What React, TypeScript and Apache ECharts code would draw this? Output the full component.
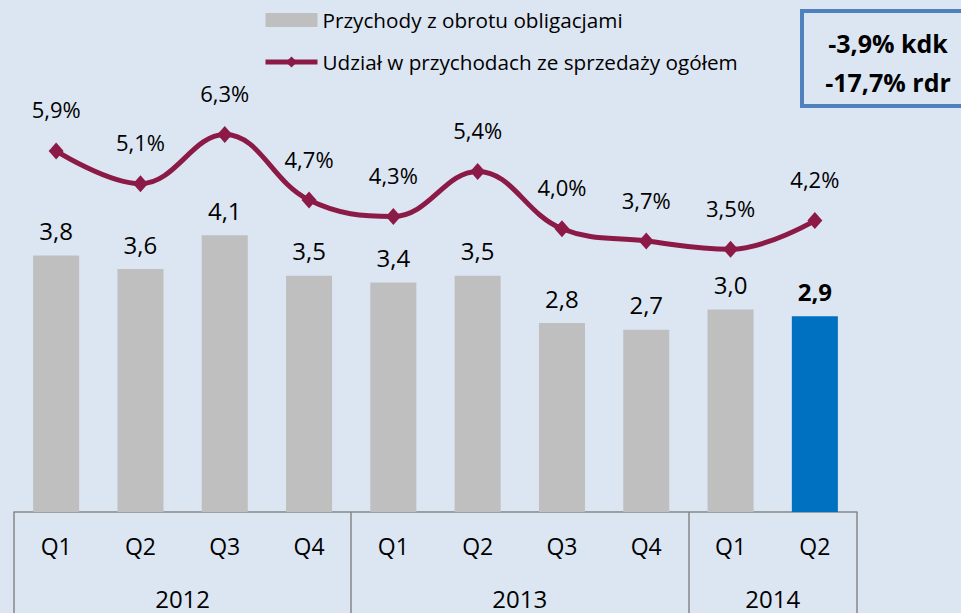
import React, { useEffect, useRef } from "react";
import * as echarts from "echarts";

const quarters = ["Q1", "Q2", "Q3", "Q4", "Q1", "Q2", "Q3", "Q4", "Q1", "Q2"];
const years = ["2012", "2013", "2014"];
const yearCenters = [2, 6, 9];
const yearBounds = [0, 4, 8, 10];
const revenue = [3.8, 3.6, 4.1, 3.5, 3.4, 3.5, 2.8, 2.7, 3.0, 2.9];
const share = [5.9, 5.1, 6.3, 4.7, 4.3, 5.4, 4.0, 3.7, 3.5, 4.2];
const boxLines = ["-3,9% kdk", "-17,7% rdr"];
const legendBar = "Przychody z obrotu obligacjami";
const legendLine = "Udział w przychodach ze sprzedaży ogółem";

const FONT = "'Open Sans', sans-serif";
const TXT = "#000";
const LINE = "#8c1a47";
const fmt = (v: number) => v.toFixed(1).replace(".", ",");

export default function App() {
  const ref = useRef<HTMLDivElement>(null);
  useEffect(() => {
    if (!ref.current) return;
    const chart = echarts.init(ref.current, undefined, { renderer: "svg" });
    const last = revenue.length - 1;
    chart.setOption({
      animation: false,
      backgroundColor: "#dce6f2",
      textStyle: { fontFamily: FONT },
      grid: { left: 14, right: 104, top: 80, bottom: 101, containLabel: false },
      legend: {
        orient: "vertical",
        left: 263,
        top: 7,
        padding: 0,
        itemWidth: 52,
        itemHeight: 14,
        itemGap: 16,
        textStyle: { fontFamily: FONT, fontSize: 20.7, lineHeight: 26, color: TXT },
        data: [
          { name: legendBar, icon: "rect" },
          { name: legendLine, lineStyle: { width: 5 } },
        ],
      },
      xAxis: [
        {
          type: "category",
          data: quarters,
          position: "bottom",
          axisLine: { show: true, lineStyle: { color: "#878787", width: 1.5 } },
          axisTick: { show: false },
          axisLabel: { fontFamily: FONT, fontSize: 23, color: TXT, margin: 22 },
        },
        {
          type: "value",
          min: 0,
          max: 10,
          position: "bottom",
          axisLine: { show: false, onZero: false },
          splitLine: { show: false },
          axisTick: {
            show: true,
            inside: false,
            customValues: yearBounds,
            length: 101,
            lineStyle: { color: "#878787", width: 1.5 },
          },
          axisLabel: {
            customValues: yearCenters,
            margin: 74,
            fontFamily: FONT,
            fontSize: 24,
            color: TXT,
            formatter: (v: number) => years[yearCenters.indexOf(v)] ?? "",
          },
        },
      ],
      yAxis: [
        { type: "value", min: 0, max: 6.4, show: false, splitLine: { show: false } },
        { type: "value", min: -2.91, max: 7.63, show: false, splitLine: { show: false } },
      ],
      series: [
        {
          name: legendBar,
          type: "bar",
          xAxisIndex: 0,
          yAxisIndex: 0,
          barWidth: "54.6%",
          itemStyle: { color: "#bfbfbf" },
          label: {
            show: true,
            position: "top",
            distance: 13,
            fontFamily: FONT,
            fontSize: 24,
            color: TXT,
            formatter: (p: any) => fmt(p.value),
          },
          data: revenue.map((v, i) =>
            i === last
              ? { value: v, itemStyle: { color: "#0070c0" }, label: { fontWeight: "bold" } }
              : v
          ),
        },
        {
          name: legendLine,
          type: "line",
          xAxisIndex: 0,
          yAxisIndex: 1,
          smooth: 0.4,
          symbol: "diamond",
          symbolSize: [15, 17],
          lineStyle: { color: LINE, width: 5 },
          itemStyle: { color: LINE },
          label: {
            show: true,
            position: "top",
            distance: 22,
            fontFamily: FONT,
            fontSize: 22,
            color: TXT,
            formatter: (p: any) => fmt(p.value) + "%",
          },
          data: share,
        },
      ],
      graphic: [
        {
          type: "rect",
          shape: { x: 802, y: 11, width: 180, height: 95 },
          style: { fill: "#dce6f2", stroke: "#4f81bd", lineWidth: 4 },
        },
        ...boxLines.map((t, i) => ({
          type: "text",
          x: 888,
          y: 43 + i * 39,
          style: {
            text: t,
            fontFamily: FONT,
            fontSize: 25,
            fontWeight: "bold",
            fill: TXT,
            align: "center",
            verticalAlign: "middle",
          },
        })),
      ],
    });
    return () => chart.dispose();
  }, []);
  return <div ref={ref} style={{ width: 961, height: 613, position: "absolute", left: 0, top: 0 }} />;
}
